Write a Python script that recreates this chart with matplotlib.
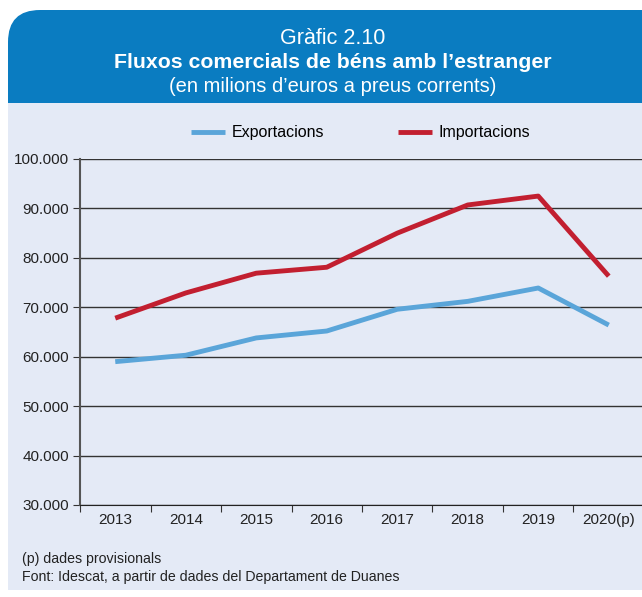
import matplotlib
matplotlib.use("Agg")
import matplotlib.pyplot as plt
from matplotlib.path import Path
from matplotlib.patches import PathPatch
from matplotlib.ticker import FuncFormatter

plt.rcParams['font.family'] = ['Liberation Sans', 'DejaVu Sans']

anys = ["2013", "2014", "2015", "2016", "2017", "2018", "2019", "2020(p)"]
exportacions = [59.0, 60.3, 63.8, 65.2, 69.6, 71.2, 73.9, 66.4]
importacions = [67.8, 72.9, 76.9, 78.1, 85.0, 90.7, 92.5, 76.3]

W, H = 642, 597
blau_cap = "#0A7CC1"
fons = "#E4EAF6"
blau = "#5AA5D9"
vermell = "#C21F30"

fig = plt.figure(figsize=(W / 100, H / 100), dpi=100, facecolor="white")


def px(x, y):
    return (x / W, 1 - y / H)


def panell(top, bottom, color, radi):
    # rectangle amb la cantonada superior esquerra arrodonida
    x0, x1 = 8, 660
    if radi:
        verts = [px(x0, bottom), px(x0, top + radi), px(x0, top), px(x0 + radi, top),
                 px(x1, top), px(x1, bottom), px(x0, bottom)]
        codes = [Path.MOVETO, Path.LINETO, Path.CURVE3, Path.CURVE3,
                 Path.LINETO, Path.LINETO, Path.CLOSEPOLY]
    else:
        verts = [px(x0, bottom), px(x0, top), px(x1, top), px(x1, bottom), px(x0, bottom)]
        codes = [Path.MOVETO, Path.LINETO, Path.LINETO, Path.LINETO, Path.CLOSEPOLY]
    fig.add_artist(PathPatch(Path(verts, codes), transform=fig.transFigure,
                             facecolor=color, edgecolor="none", zorder=0))


panell(103, 590, fons, 0)
panell(10, 103, blau_cap, 32)

fig.text(333 / W, 1 - 39 / H, "Gràfic 2.10", ha="center", va="center",
         color="white", fontsize=15.5)
fig.text(333 / W, 1 - 62 / H, "Fluxos comercials de béns amb l\u2019estranger",
         ha="center", va="center", color="white", fontsize=15.3, fontweight="bold")
fig.text(333 / W, 1 - 86 / H, "(en milions d\u2019euros a preus corrents)",
         ha="center", va="center", color="white", fontsize=14.5)

ax = fig.add_axes([80 / W, 1 - 505 / H, 564 / W, 346 / H])
ax.patch.set_alpha(0)

x = range(len(anys))
ax.plot(x, exportacions, color=blau, lw=3.5, solid_capstyle="butt", label="Exportacions")
ax.plot(x, importacions, color=vermell, lw=3.5, solid_capstyle="butt", label="Importacions")

ax.set_xlim(-0.5, len(anys) - 0.5)
ax.set_ylim(30, 100)
ax.set_yticks(range(30, 101, 10))
ax.yaxis.set_major_formatter(FuncFormatter(lambda v, p: f"{int(v)}.000"))
ax.grid(axis="y", color="#333333", lw=1)
ax.set_axisbelow(True)

ax.set_xticks([i - 0.5 for i in range(len(anys) + 1)])
ax.set_xticklabels([])
ax.set_xticks(list(x), minor=True)
ax.set_xticklabels(anys, minor=True)
ax.tick_params(axis="x", which="major", length=5, direction="out", color="#333333")
ax.tick_params(axis="x", which="minor", length=0, labelsize=11, pad=6, colors="#222222")
ax.tick_params(axis="y", length=5, color="#333333", labelsize=11, pad=3, labelcolor="#222222")

for s in ["top", "right"]:
    ax.spines[s].set_visible(False)
ax.spines["left"].set_color("#555555")
ax.spines["left"].set_linewidth(1.5)
ax.spines["bottom"].set_color("#222222")

ax.legend(loc="center", bbox_to_anchor=(361 / W, 1 - 133 / H),
          bbox_transform=fig.transFigure, ncol=2, frameon=False, fontsize=11.5,
          handlelength=2.1, columnspacing=4.6, handletextpad=0.45)

fig.text(22 / W, 1 - 559 / H, "(p) dades provisionals", fontsize=10.2, va="center", color="#222222")
fig.text(22 / W, 1 - 577 / H, "Font: Idescat, a partir de dades del Departament de Duanes",
         fontsize=10.2, va="center", color="#222222")

fig.savefig("out.png", dpi=100, facecolor="white")
